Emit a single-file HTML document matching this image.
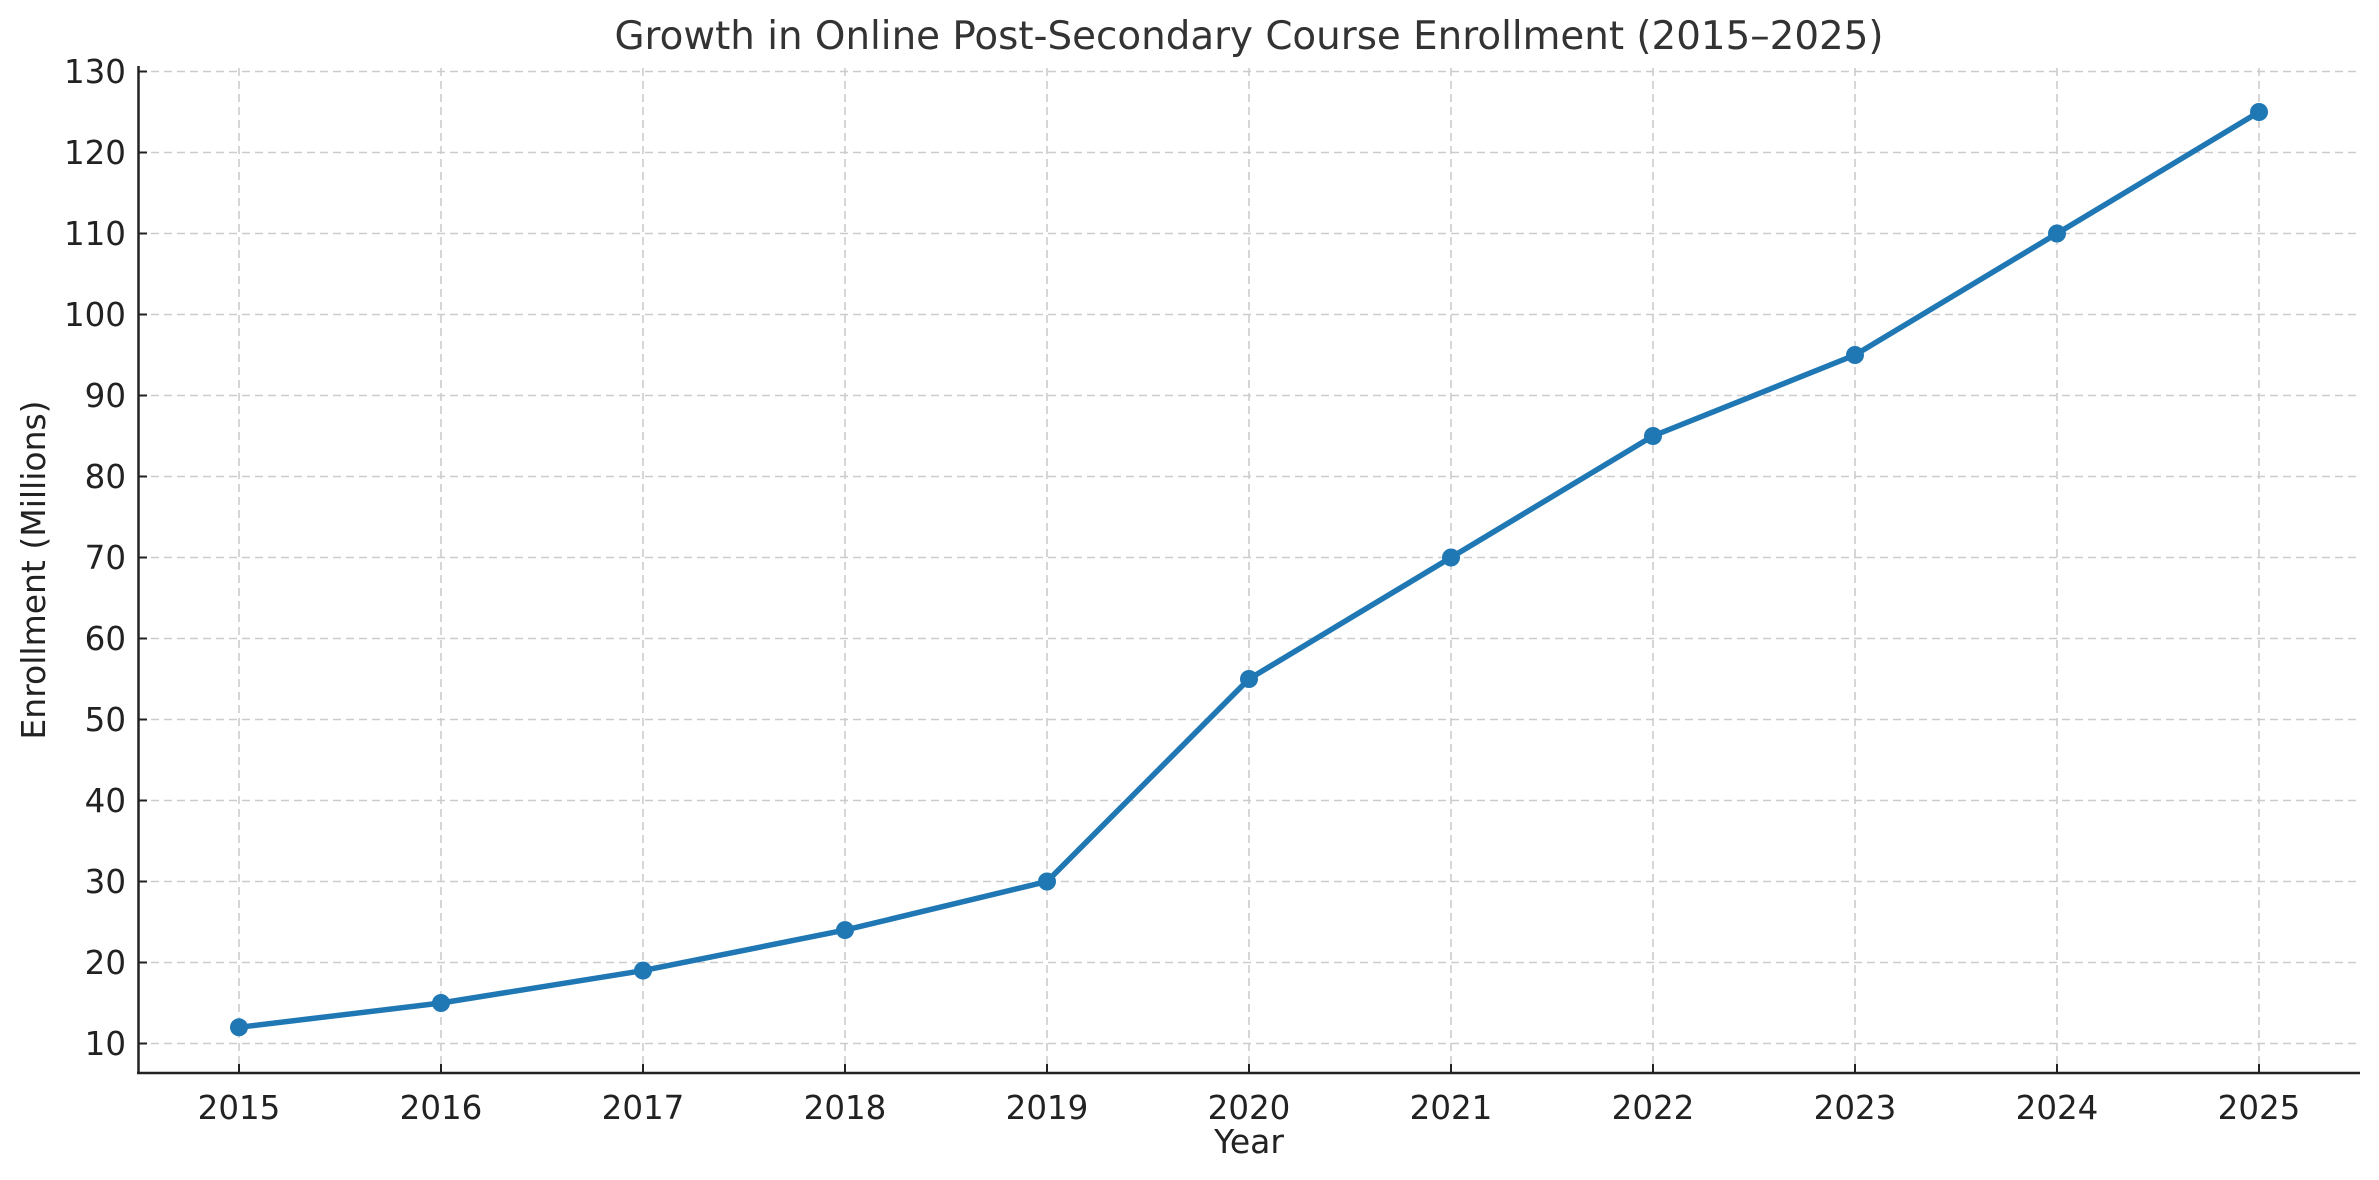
<!DOCTYPE html>
<html><head><meta charset="utf-8"><style>body{margin:0;background:#fff}svg{display:block}</style></head><body>
<svg width="2379" height="1180" xmlns="http://www.w3.org/2000/svg" font-family="DejaVu Sans, Liberation Sans, sans-serif" fill="#222">
<rect width="2379" height="1180" fill="#fff"/>
<g stroke="#cccccc" stroke-width="1.6" stroke-dasharray="8,5">
<line x1="239" y1="68" x2="239" y2="1073"/><line x1="441" y1="68" x2="441" y2="1073"/><line x1="643" y1="68" x2="643" y2="1073"/><line x1="845" y1="68" x2="845" y2="1073"/><line x1="1047" y1="68" x2="1047" y2="1073"/><line x1="1249" y1="68" x2="1249" y2="1073"/><line x1="1451" y1="68" x2="1451" y2="1073"/><line x1="1653" y1="68" x2="1653" y2="1073"/><line x1="1855" y1="68" x2="1855" y2="1073"/><line x1="2057" y1="68" x2="2057" y2="1073"/><line x1="2259" y1="68" x2="2259" y2="1073"/>
<line x1="138" y1="1043.5" x2="2360" y2="1043.5"/><line x1="138" y1="962.5" x2="2360" y2="962.5"/><line x1="138" y1="881.5" x2="2360" y2="881.5"/><line x1="138" y1="800.5" x2="2360" y2="800.5"/><line x1="138" y1="719.5" x2="2360" y2="719.5"/><line x1="138" y1="638.5" x2="2360" y2="638.5"/><line x1="138" y1="557.5" x2="2360" y2="557.5"/><line x1="138" y1="476.5" x2="2360" y2="476.5"/><line x1="138" y1="395.5" x2="2360" y2="395.5"/><line x1="138" y1="314.5" x2="2360" y2="314.5"/><line x1="138" y1="233.5" x2="2360" y2="233.5"/><line x1="138" y1="152.5" x2="2360" y2="152.5"/><line x1="138" y1="71.5" x2="2360" y2="71.5"/>
</g>
<g stroke="#222" stroke-width="2.5">
<line x1="138.5" y1="66" x2="138.5" y2="1074"/><line x1="137" y1="1073" x2="2360" y2="1073"/>
</g>
<g stroke="#222" stroke-width="2">
<line x1="138" y1="1043.5" x2="147" y2="1043.5"/><line x1="138" y1="962.5" x2="147" y2="962.5"/><line x1="138" y1="881.5" x2="147" y2="881.5"/><line x1="138" y1="800.5" x2="147" y2="800.5"/><line x1="138" y1="719.5" x2="147" y2="719.5"/><line x1="138" y1="638.5" x2="147" y2="638.5"/><line x1="138" y1="557.5" x2="147" y2="557.5"/><line x1="138" y1="476.5" x2="147" y2="476.5"/><line x1="138" y1="395.5" x2="147" y2="395.5"/><line x1="138" y1="314.5" x2="147" y2="314.5"/><line x1="138" y1="233.5" x2="147" y2="233.5"/><line x1="138" y1="152.5" x2="147" y2="152.5"/><line x1="138" y1="71.5" x2="147" y2="71.5"/>
<line x1="239" y1="1064" x2="239" y2="1073"/><line x1="441" y1="1064" x2="441" y2="1073"/><line x1="643" y1="1064" x2="643" y2="1073"/><line x1="845" y1="1064" x2="845" y2="1073"/><line x1="1047" y1="1064" x2="1047" y2="1073"/><line x1="1249" y1="1064" x2="1249" y2="1073"/><line x1="1451" y1="1064" x2="1451" y2="1073"/><line x1="1653" y1="1064" x2="1653" y2="1073"/><line x1="1855" y1="1064" x2="1855" y2="1073"/><line x1="2057" y1="1064" x2="2057" y2="1073"/><line x1="2259" y1="1064" x2="2259" y2="1073"/>
</g>
<g font-size="32.5" text-anchor="end">
<text x="126" y="1055">10</text><text x="126" y="974">20</text><text x="126" y="893">30</text><text x="126" y="812">40</text><text x="126" y="731">50</text><text x="126" y="650">60</text><text x="126" y="569">70</text><text x="126" y="488">80</text><text x="126" y="407">90</text><text x="126" y="326">100</text><text x="126" y="245">110</text><text x="126" y="164">120</text><text x="126" y="83">130</text>
</g>
<g font-size="32.5" text-anchor="middle">
<text x="239" y="1119">2015</text><text x="441" y="1119">2016</text><text x="643" y="1119">2017</text><text x="845" y="1119">2018</text><text x="1047" y="1119">2019</text><text x="1249" y="1119">2020</text><text x="1451" y="1119">2021</text><text x="1653" y="1119">2022</text><text x="1855" y="1119">2023</text><text x="2057" y="1119">2024</text><text x="2259" y="1119">2025</text>
<text x="1249" y="1153" font-size="33">Year</text>
<text transform="translate(45,570) rotate(-90)" font-size="33">Enrollment (Millions)</text>
<text x="1249" y="49" font-size="38.8" fill="#333">Growth in Online Post-Secondary Course Enrollment (2015–2025)</text>
</g>
<polyline fill="none" stroke="#1f77b4" stroke-width="5.5" stroke-linejoin="round" points="239,1027.3 441,1003 643,970.6 845,930.1 1047,881.5 1249,679 1451,557.5 1653,436 1855,355 2057,233.5 2259,112"/>
<g fill="#1f77b4">
<circle cx="239" cy="1027.3" r="9"/><circle cx="441" cy="1003" r="9"/><circle cx="643" cy="970.6" r="9"/><circle cx="845" cy="930.1" r="9"/><circle cx="1047" cy="881.5" r="9"/><circle cx="1249" cy="679" r="9"/><circle cx="1451" cy="557.5" r="9"/><circle cx="1653" cy="436" r="9"/><circle cx="1855" cy="355" r="9"/><circle cx="2057" cy="233.5" r="9"/><circle cx="2259" cy="112" r="9"/>
</g>
</svg>
</body></html>
